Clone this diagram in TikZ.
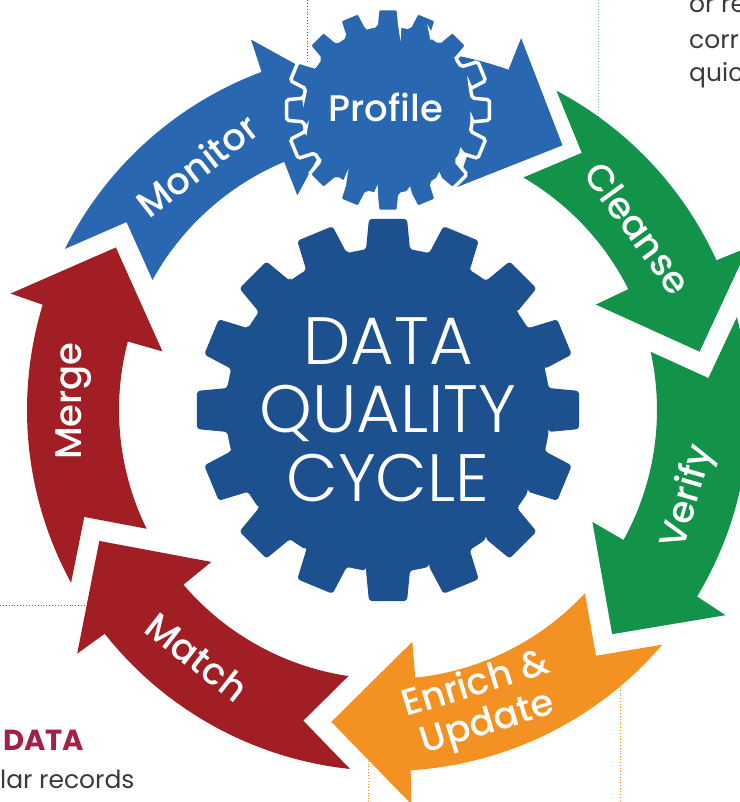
\documentclass[tikz,border=0pt]{standalone}
\usepackage{fontspec}
\setmainfont{Poppins}
\newfontfamily\thinf{Poppins Light}
\newfontfamily\medf{Poppins Medium}
\definecolor{cblue}{RGB}{41,103,176}
\definecolor{cgear}{RGB}{29,80,142}
\definecolor{cgreen}{RGB}{19,146,74}
\definecolor{corange}{RGB}{243,146,35}
\definecolor{cred}{RGB}{160,30,36}
\definecolor{cmaroon}{RGB}{165,32,70}
\definecolor{cbody}{RGB}{58,58,58}
\newcommand\ringarrow[3]{% #1 colour, #2 tail angle, #3 head base angle
  \fill[#1] ({#2+1.2}:361) arc[start angle={#2+1.2}, end angle={#3-1.1}, radius=361]
    -- ({#3-1.3}:395) -- ({#3-15}:317) -- ({#3+1.3}:233) -- ({#3+1.1}:269)
    arc[start angle={#3+1.1}, end angle={#2-1.2}, radius=269]
    -- ({#2-8}:322) -- cycle;}
\newcommand\gearpath[4]{% outer r, root r, tip half angle, root half angle
  ({-#4}:#2) \foreach \k in {0,...,15}{ -- ({\k*22.5-#4}:#2) -- ({\k*22.5-#3}:#1)
    -- ({\k*22.5+#3}:#1) -- ({\k*22.5+#4}:#2)
    arc[start angle={\k*22.5+#4}, end angle={\k*22.5+22.5-#4}, radius=#2]} -- cycle}
\tikzset{
  lab/.style={text=white, font=\medf\fontsize{37}{40}\selectfont, align=center},
  big/.style={text=white, font=\thinf\fontsize{67}{68}\selectfont, anchor=base},
  body/.style={text=cbody, font=\fontsize{25}{30}\selectfont, anchor=base west, inner sep=0pt},
  dotline/.style={dotted, line width=0.9pt}
}
\begin{document}
\begin{tikzpicture}[x=1pt,y=1pt]
\useasboundingbox (-388,-392) rectangle (351,410);
% background guide lines
\draw[dotline, cblue] (-81,410) -- (-81,330);
\draw[dotline, cgreen!60] (210,410) -- (210,287);
\draw[dotline, cred!80] (-388,-195) -- (-266,-195);
\draw[dotline, corange] (-20,-310) -- (-20,-392);
\draw[dotline, corange] (232,-268) -- (232,-392);
% ring of arrows
\ringarrow{cblue}{152.3}{111.6}
\ringarrow{cblue}{98}{71.6}
\ringarrow{cgreen}{61}{25.6}
\ringarrow{cgreen}{13.7}{-30}
\ringarrow{corange}{-41.75}{-85.3}
\ringarrow{cred}{-97.25}{-140.6}
\ringarrow{cred}{207.4}{164.15}
% profile gear
\begin{scope}[shift={(0,300)}]
  \filldraw[cblue, draw=white, line width=3.5pt, rounded corners=2pt] \gearpath{102}{85}{5.8}{8}
;
\end{scope}
% central gear
\fill[cgear, rounded corners=3pt] \gearpath{192}{162}{5.7}{7.8};
% texts
\node[big] (dq1) at (0,45) {DATA};
\node[big] (dq2) at (0,-23) {QUALITY};
\node[big] (dq3) at (0,-92) {CYCLE};
\node[lab, anchor=base] (profile) at (-2,288) {Profile};
\node[lab, rotate=37.9] (monitor) at (-191,245) {Monitor};
\node[lab, rotate=-53.9] (cleanse) at (250,182) {Cleanse};
\node[lab, rotate=73.9] (verify) at (301,-87) {Verify};
\node[lab, rotate=17] (enrich) at (94,-295) {Enrich \&\\Update};
\node[lab, rotate=-37.8] (match) at (-191,-247) {Match};
\node[lab, rotate=90] (merge) at (-314,9) {Merge};
\node[text=cmaroon, font=\fontsize{29}{29}\selectfont\bfseries, anchor=base west, inner sep=0pt] (dhead) at (-385,-340) {DATA};
\node[body] (lrec) at (-388,-378) {lar records};
\node[body] (tr1) at (301,397) {or re};
\node[body] (tr2) at (301,361) {corre};
\node[body] (tr3) at (301,328) {quic};
\end{tikzpicture}
\end{document}
